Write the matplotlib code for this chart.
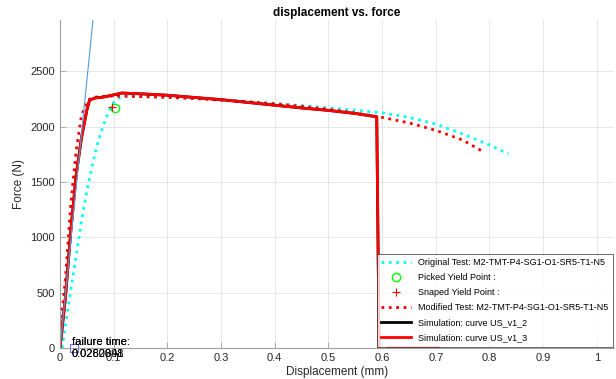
import numpy as np
import matplotlib
matplotlib.use('Agg')
import matplotlib.pyplot as plt

plt.rcParams['font.family'] = ['Liberation Sans', 'DejaVu Sans']

# Original test curve (displacement in mm, force in N)
orig_x = [0.004, 0.01, 0.02, 0.03, 0.04, 0.05, 0.06, 0.07, 0.08, 0.09, 0.10, 0.11,
          0.12, 0.15, 0.20, 0.25, 0.30, 0.35, 0.40, 0.45, 0.50, 0.55, 0.60,
          0.65, 0.70, 0.75, 0.80, 0.835]
orig_f = [0, 200, 520, 830, 1150, 1420, 1650, 1850, 2000, 2130, 2220, 2260,
          2275, 2275, 2268, 2258, 2245, 2228, 2210, 2192, 2170, 2150, 2125,
          2085, 2025, 1935, 1835, 1755]

# Modified test curve
mod_x = [0.0, 0.01, 0.02, 0.03, 0.04, 0.05, 0.06, 0.08, 0.10, 0.15, 0.20, 0.25,
         0.30, 0.35, 0.40, 0.45, 0.50, 0.55, 0.60, 0.65, 0.70, 0.75, 0.79]
mod_f = [140, 620, 1300, 1780, 2100, 2230, 2265, 2275, 2278, 2272, 2265, 2255,
         2240, 2225, 2208, 2185, 2158, 2125, 2085, 2035, 1968, 1880, 1770]

# Simulation curve (US_v1_2 and US_v1_3 give the same response)
sim_x = [0.0, 0.01, 0.02, 0.03, 0.04, 0.05, 0.055, 0.065, 0.08, 0.10, 0.115,
         0.15, 0.20, 0.25, 0.30, 0.35, 0.40, 0.45, 0.50, 0.55, 0.59, 0.595,
         0.61, 0.705]
sim_f = [0, 450, 1050, 1560, 1900, 2150, 2240, 2260, 2268, 2288, 2305,
         2298, 2285, 2265, 2245, 2220, 2195, 2170, 2148, 2120, 2090, -300,
         0, 0]

# Yield points
picked_yield = (0.102, 2170)
snapped_yield = (0.097, 2179)

# Elastic stiffness line (N/mm)
stiffness = 48300
elastic_x = np.array([0.0, 0.07])

failure_x = 0.027
failure_texts = ['failure time:\n0.0282091', 'failure time:\n0.0260848']

fig = plt.figure(figsize=(6.16, 3.79), dpi=100)
ax = fig.add_axes([0.0974, 0.0818, 0.8994, 0.8654])

ax.plot(orig_x, orig_f, ':', color='cyan', lw=2,
        label='Original Test: M2-TMT-P4-SG1-O1-SR5-T1-N5')
ax.plot(*picked_yield, 'o', mfc='none', mec='#00ff00', ms=6,
        label='Picked Yield Point :')
ax.plot(*snapped_yield, '+', color='red', ms=6, mew=0.8,
        label='Snaped Yield Point :')
ax.plot(mod_x, mod_f, ':', color='red', lw=2,
        label='Modified Test: M2-TMT-P4-SG1-O1-SR5-T1-N5')
ax.plot(sim_x, sim_f, '-', color='black', lw=2,
        label='Simulation: curve US_v1_2')
ax.plot(sim_x, sim_f, '-', color='red', lw=2,
        label='Simulation: curve US_v1_3')
ax.plot(elastic_x, stiffness * elastic_x, '-', color='#4d9ed8', lw=0.8)

ax.plot(failure_x, 0, 's', mfc='none', mec='#6b6bff', ms=6, mew=0.8, clip_on=False)
for t in failure_texts:
    ax.text(0.0225, 0, t, fontsize=8, va='center', ha='left', linespacing=1.2)

ax.set_xlim(0, 1.032)
ax.set_ylim(0, 2965)
ax.set_xticks(np.arange(0, 1.01, 0.1))
ax.set_xticklabels(['0', '0.1', '0.2', '0.3', '0.4', '0.5', '0.6', '0.7', '0.8', '0.9', '1'])
ax.set_yticks(np.arange(0, 2501, 500))

ax.grid(True, color='#e6e6e6', lw=0.7)
ax.set_axisbelow(True)
for side in ['top', 'right']:
    ax.spines[side].set_visible(False)
for side in ['left', 'bottom']:
    ax.spines[side].set_color('#a0a0a0')
ax.tick_params(direction='in', length=4, width=0.6, colors='#a0a0a0',
               labelcolor='#262626', labelsize=8)

ax.set_title('displacement vs. force', fontsize=8.5, fontweight='bold', pad=3)
ax.set_xlabel('Displacement (mm)', fontsize=8.5, color='#262626', labelpad=2)
ax.set_ylabel('Force (N)', fontsize=8.5, color='#262626', labelpad=4)

leg = ax.legend(loc='lower right', fontsize=6.5, frameon=True, fancybox=False,
                edgecolor='#262626', borderaxespad=0.15, handlelength=3.3,
                labelspacing=0.68, borderpad=0.45, handletextpad=0.8)
leg.get_frame().set_linewidth(0.6)

fig.savefig('out.png', dpi=100)
